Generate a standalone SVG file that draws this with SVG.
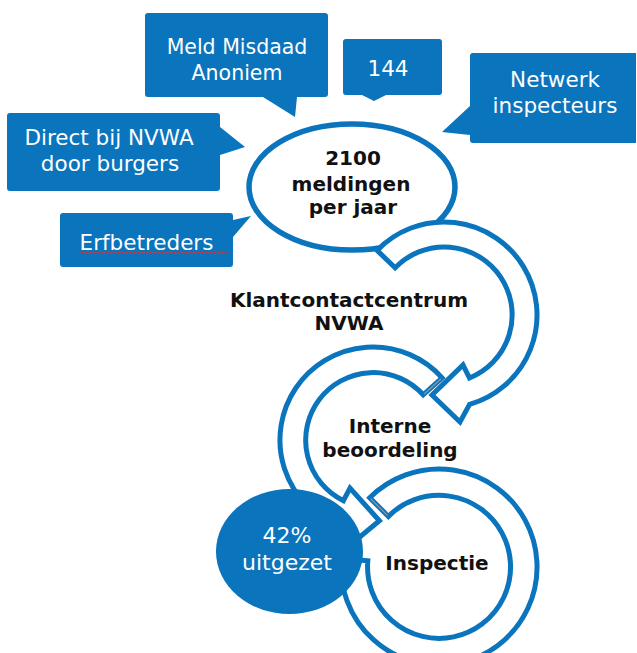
<svg xmlns="http://www.w3.org/2000/svg" width="637" height="653" viewBox="0 0 637 653">
<style>
.call{fill:#0a74bd}
.ct{font-family:"DejaVu Sans","Verdana",sans-serif;font-size:21.5px;fill:#ffffff;text-anchor:middle}
.bt{font-family:"DejaVu Sans","Verdana",sans-serif;font-size:20px;font-weight:bold;fill:#111111;text-anchor:middle}
.ring{fill:#ffffff;stroke:#0a74bd;stroke-width:5;stroke-linejoin:miter}
.cut{stroke:#8a96a3;stroke-width:1.3;fill:none}
</style>
<rect width="637" height="653" fill="#ffffff"/>

<g id="callout-meld">
<path class="call" d="M148 13 H325 Q328 13 328 16 V94 Q328 97 325 97 H297 V97 L295 117 L263 97 H148 Q145 97 145 94 V16 Q145 13 148 13 Z"/>
<text class="ct" x="237" y="54" style="font-size:20.5px">Meld Misdaad</text>
<text class="ct" x="237" y="80" style="font-size:20.5px">Anoniem</text>
</g>

<g id="callout-144">
<path class="call" d="M346 39 H439 Q442 39 442 42 V92 Q442 95 439 95 H386 L374 101 L362 95 H346 Q343 95 343 92 V42 Q343 39 346 39 Z"/>
<text class="ct" x="388" y="76">144</text>
</g>

<g id="callout-netwerk">
<path class="call" d="M473 53 H636 V143 H473 Q470 143 470 140 V135 L442 132 L470 106 V56 Q470 53 473 53 Z"/>
<text class="ct" x="555" y="87">Netwerk</text>
<text class="ct" x="555" y="113">inspecteurs</text>
</g>

<g id="callout-direct">
<path class="call" d="M10 113 H217 Q220 113 220 116 V127 L245 147 L220 155 V188 Q220 191 217 191 H10 Q7 191 7 188 V116 Q7 113 10 113 Z"/>
<text class="ct" x="109" y="145">Direct bij NVWA</text>
<text class="ct" x="110" y="171">door burgers</text>
</g>

<g id="callout-erf">
<path class="call" d="M63 213 H230 Q233 213 233 216 V220 L251 216 L233 237 V264 Q233 267 230 267 H63 Q60 267 60 264 V216 Q60 213 63 213 Z"/>
<text class="ct" x="146.5" y="250">Erfbetreders</text>
<path d="M80 253.5 l2 -1.5 l2 1.5 l2 -1.5 l2 1.5 l2 -1.5 l2 1.5 l2 -1.5 l2 1.5 l2 -1.5 l2 1.5 l2 -1.5 l2 1.5 l2 -1.5 l2 1.5 l2 -1.5 l2 1.5 l2 -1.5 l2 1.5 l2 -1.5 l2 1.5 l2 -1.5 l2 1.5 l2 -1.5 l2 1.5 l2 -1.5 l2 1.5 l2 -1.5 l2 1.5 l2 -1.5 l2 1.5 l2 -1.5 l2 1.5 l2 -1.5 l2 1.5 l2 -1.5 l2 1.5 l2 -1.5 l2 1.5 l2 -1.5 l2 1.5 l2 -1.5 l2 1.5 l2 -1.5 l2 1.5 l2 -1.5 l2 1.5 l2 -1.5 l2 1.5 l2 -1.5 l2 1.5 l2 -1.5 l2 1.5 l2 -1.5 l2 1.5 l2 -1.5 l2 1.5 l2 -1.5 l2 1.5 l2 -1.5 l2 1.5 l2 -1.5 l2 1.5 l2 -1.5 l2 1.5 l2 -1.5 l2 1.5 l2 -1.5 l2 1.5 l2 -1.5 l2 1.5 l2 -1.5 l2 1.5 l2 -1.5 l2 1.5" fill="none" stroke="#e03030" stroke-width="1"/>
</g>

<g id="meldingen">
<ellipse cx="352" cy="187" rx="103" ry="63" fill="#ffffff" stroke="#0a74bd" stroke-width="5.5"/>
<text class="bt" x="353" y="165">2100</text>
<text class="bt" x="351" y="191">meldingen</text>
<text class="bt" x="353" y="214">per jaar</text>
</g>

<g id="connectors">
<path id="arrow-beoordeling" class="ring" d="M442.1 377.8 A93 93 0 1 0 341.2 527.4 L349.6 545.4 L379.4 520.8 L350 488 L343.4 500.7 A67.5 67.5 0 1 1 423.2 394.8 Z"/>
<line class="cut" x1="441" y1="378.8" x2="424.2" y2="393.9"/>
<path id="arrow-inspectie" class="ring" d="M369.7 497.7 A98 98 0 1 1 341.4 558.5 L367.8 560.8 A71.5 71.5 0 1 0 388.4 516.4 Z"/>
<line class="cut" x1="370.7" y1="498.7" x2="387.4" y2="515.4"/>
<path id="arrow-kcc" class="ring" d="M377.1 250.4 A93 93 0 1 1 469.6 404.4 L460 422 L432 395 L463 365 L469.5 378 A68 68 0 1 0 395.1 267.8 Z"/>
</g>

<g id="klantcontactcentrum">
<text class="bt" x="349" y="307">Klantcontactcentrum</text>
<text class="bt" x="349" y="330">NVWA</text>
</g>

<g id="interne-beoordeling">
<text class="bt" x="390" y="433">Interne</text>
<text class="bt" x="390" y="457">beoordeling</text>
</g>

<g id="inspectie">
<text class="bt" x="437" y="570">Inspectie</text>
</g>

<g id="uitgezet">
<ellipse cx="289.5" cy="551.5" rx="73.5" ry="62.5" fill="#0a74bd"/>
<text class="ct" x="287" y="543" style="font-size:22px">42%</text>
<text class="ct" x="287" y="570" style="font-size:22px">uitgezet</text>
</g>
</svg>
